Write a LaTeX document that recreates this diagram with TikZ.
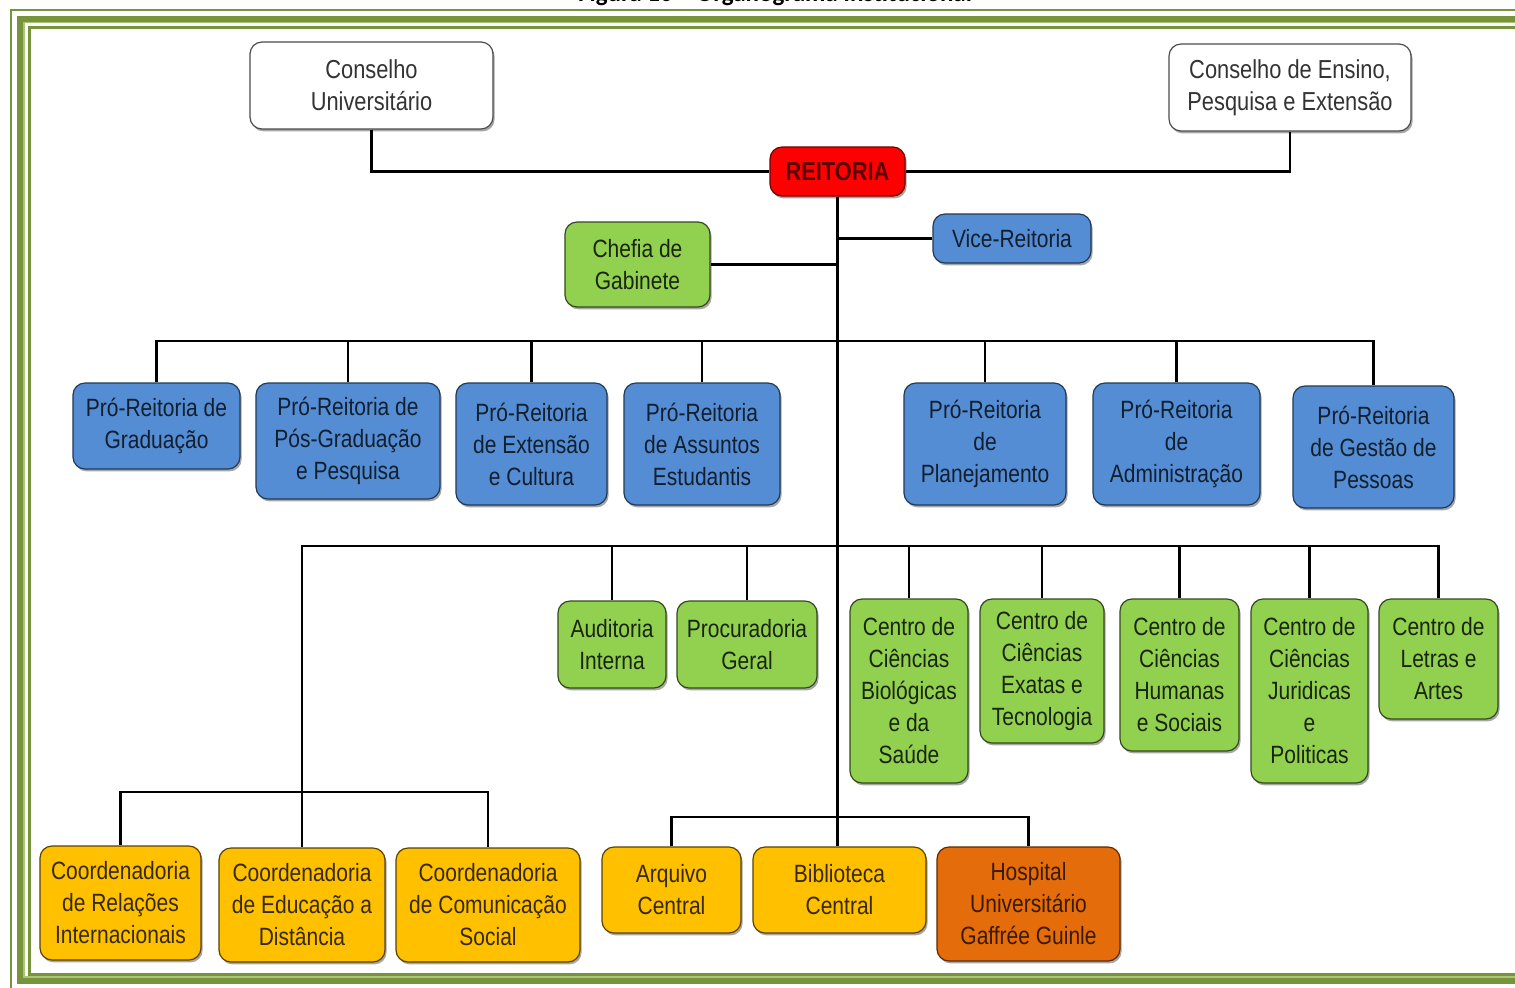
\documentclass[tikz,border=0pt]{standalone}
\usepackage{fontspec}
\setmainfont{Liberation Sans}[FakeStretch=0.84]
\newfontfamily\titlefont{Carlito}
\usetikzlibrary{shadows}
\definecolor{frame}{RGB}{119,147,60}
\definecolor{framelight}{RGB}{170,196,120}
\definecolor{pblue}{RGB}{84,141,212}
\definecolor{pgreen}{RGB}{146,208,80}
\definecolor{pyellow}{RGB}{255,192,0}
\definecolor{porange}{RGB}{228,108,10}
\definecolor{pred}{RGB}{255,0,0}
\tikzset{
  box/.style={rounded corners=6pt, align=center, inner sep=1pt,
    font=\fontsize{12.5}{16}\selectfont, line width=0.6pt,
    drop shadow={shadow xshift=0.8pt, shadow yshift=-1.2pt, fill=black, opacity=0.35}},
  sz/.style 2 args={minimum width=#1*0.5pt, minimum height=#2*0.5pt},
  whitebox/.style={box, fill=white, draw=black!70, text=black!80,
    font=\fontsize{13}{16}\selectfont},
  redbox/.style={box, fill=pred, draw=pred!45!black, text=pred!35!black,
    font=\fontsize{13}{16}\selectfont\bfseries},
  bluebox/.style={box, fill=pblue, draw=pblue!40!black, text=pblue!22!black},
  greenbox/.style={box, fill=pgreen, draw=pgreen!35!black, text=pgreen!18!black},
  yellowbox/.style={box, fill=pyellow, draw=pyellow!35!black, text=pyellow!22!black},
  orangebox/.style={box, fill=porange, draw=porange!40!black, text=porange!25!black},
  link/.style={line width=1.3pt, black},
  frameline/.style={draw=frame}
}
\begin{document}
\begin{tikzpicture}[x=0.5pt, y=-0.5pt]
\useasboundingbox (0,0) rectangle (1515,987);
\clip (0,0) rectangle (1515,987);
\fill[white] (0,0) rectangle (1515,987);

% frame
\draw[frameline, line width=1pt] (11,10) rectangle (1540,995);
\draw[frameline, line width=3pt] (20,18.5) rectangle (1540,981);
\draw[framelight, line width=0.8pt] (24,22.5) rectangle (1540,977);
\draw[frameline, line width=1.5pt] (29.5,27.5) rectangle (1540,974);

% title (cut off at the top, as in the reference)
\node[anchor=base, inner sep=0pt, font=\titlefont\bfseries\fontsize{12.5}{15}\selectfont] (title) at (775,1.5) {Figura 10 – Organograma Institucional};

% nodes
\node[whitebox, sz={243}{87}] (cu) at (371.5,85.5) {Conselho\\Universitário};
\node[whitebox, sz={242}{87}] (ce) at (1290,87.5) {Conselho de Ensino,\\Pesquisa e Extensão};
\node[redbox, sz={135}{49}] (rei) at (837.5,171.5) {REITORIA};
\node[bluebox, sz={158}{49}] (vice) at (1012,238.5) {Vice-Reitoria};
\node[greenbox, sz={145}{85}] (chefia) at (637.5,264.5) {Chefia de\\Gabinete};

\node[bluebox, sz={167}{86}] (grad) at (156.5,426) {Pró-Reitoria de\\Graduação};
\node[bluebox, sz={184}{116}] (pos) at (348,441) {Pró-Reitoria de\\Pós-Graduação\\e Pesquisa};
\node[bluebox, sz={151}{122}] (ext) at (531.5,444) {Pró-Reitoria\\de Extensão\\e Cultura};
\node[bluebox, sz={156}{122}] (ae) at (702,444) {Pró-Reitoria\\de Assuntos\\Estudantis};
\node[bluebox, sz={162}{122}] (plan) at (985,444) {Pró-Reitoria\\de\\Planejamento};
\node[bluebox, sz={167}{122}] (adm) at (1176.5,444) {Pró-Reitoria\\de\\Administração};
\node[bluebox, sz={161}{122}] (gp) at (1373.5,447) {Pró-Reitoria\\de Gestão de\\Pessoas};

\node[greenbox, sz={108}{87}] (aud) at (612,644.5) {Auditoria\\Interna};
\node[greenbox, sz={140}{87}] (proc) at (747,644.5) {Procuradoria\\Geral};
\node[greenbox, sz={118}{184}] (cbs) at (909,691) {Centro de\\Ciências\\Biológicas\\e da\\Saúde};
\node[greenbox, sz={124}{144}] (cet) at (1042,671) {Centro de\\Ciências\\Exatas e\\Tecnologia};
\node[greenbox, sz={119}{152}] (chs) at (1179.5,675) {Centro de\\Ciências\\Humanas\\e Sociais};
\node[greenbox, sz={117}{184}] (cjp) at (1309.5,691) {Centro de\\Ciências\\Juridicas\\e\\Politicas};
\node[greenbox, sz={119}{120}] (cla) at (1438.5,659) {Centro de\\Letras e\\Artes};

\node[yellowbox, sz={161}{114}] (cri) at (120.5,903) {Coordenadoria\\de Relações\\Internacionais};
\node[yellowbox, sz={166}{114}] (cead) at (302,905) {Coordenadoria\\de Educação a\\Distância};
\node[yellowbox, sz={184}{114}] (ccs) at (488,905) {Coordenadoria\\de Comunicação\\Social};
\node[yellowbox, sz={139}{86}] (arq) at (671.5,890) {Arquivo\\Central};
\node[yellowbox, sz={173}{86}] (bib) at (839.5,890) {Biblioteca\\Central};
\node[orangebox, sz={183}{114}] (hosp) at (1028.5,904) {Hospital\\Universitário\\Gaffrée Guinle};

% bus coordinates
\coordinate (busA) at (837,341);
\coordinate (busB) at (837,546);
\coordinate (busC) at (837,817);
\coordinate (busD) at (301,792);

% connectors
\draw[link] (cu.south) |- (rei.west);
\draw[link] (ce.south) |- (rei.east);
\draw[link] (rei.south) -- (rei.south |- bib.north);
\draw[link] (vice.west) -- (vice.west -| rei.south);
\draw[link] (chefia.east) -- (chefia.east -| rei.south);

\draw[link] (grad.north) -- (grad.north |- busA) -- (gp.north |- busA) -- (gp.north);
\foreach \n in {pos,ext,ae,plan,adm} \draw[link] (\n.north) -- (\n.north |- busA);

\draw[link] (cead.north) -- (cead.north |- busB) -- (cla.north |- busB) -- (cla.north);
\foreach \n in {aud,proc,cbs,cet,chs,cjp} \draw[link] (\n.north) -- (\n.north |- busB);

\draw[link] (cri.north) -- (cri.north |- busD) -- (ccs.north |- busD) -- (ccs.north);
\draw[link] (arq.north) -- (arq.north |- busC) -- (hosp.north |- busC) -- (hosp.north);
\end{tikzpicture}
\end{document}
